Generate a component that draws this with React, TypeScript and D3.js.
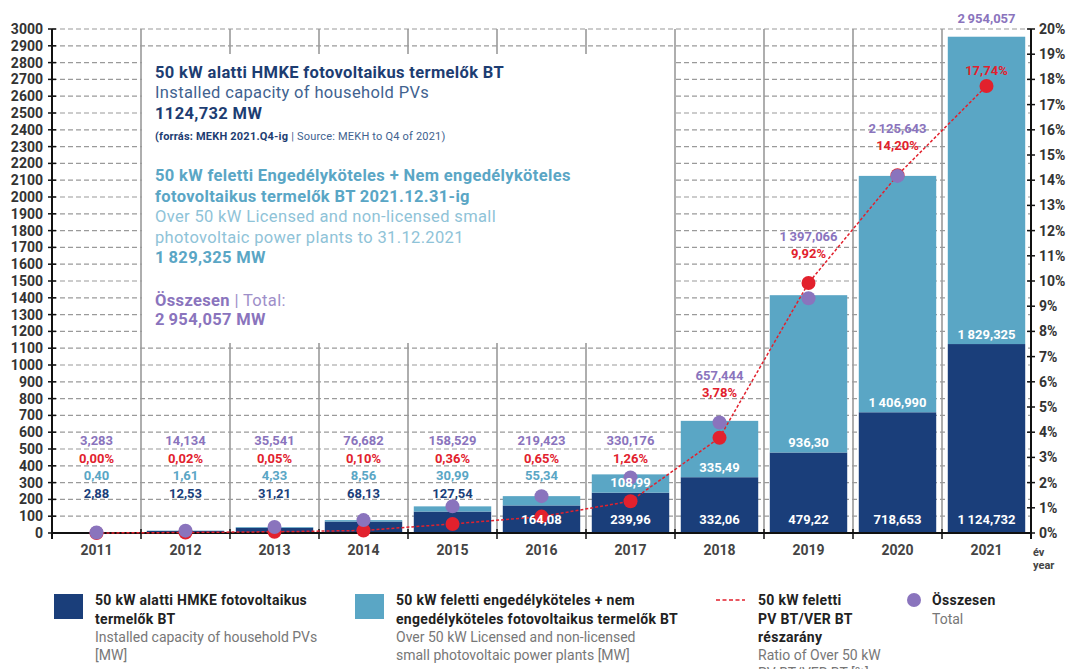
import React from "react";
import * as d3 from "d3";

// ---------- data ----------
const years = ["2011", "2012", "2013", "2014", "2015", "2016", "2017", "2018", "2019", "2020", "2021"];
const household = [2.88, 12.53, 31.21, 68.13, 127.54, 164.08, 239.96, 332.06, 479.22, 718.653, 1124.732];
const licensed = [0.4, 1.61, 4.33, 8.56, 30.99, 55.34, 108.99, 335.49, 936.3, 1406.99, 1829.325];
const totals = [3.283, 14.134, 35.541, 76.682, 158.529, 219.423, 330.176, 657.444, 1397.066, 2125.643, 2954.057];
const ratioPct = [0.0, 0.02, 0.05, 0.1, 0.36, 0.65, 1.26, 3.78, 9.92, 14.2, 17.74];
const decimals = [2, 2, 2, 2, 2, 2, 2, 2, 2, 3, 3];
const mwTicks = d3.range(0, 3001, 100);
const pctTicks = d3.range(0, 21, 1);

// ---------- style ----------
const W = 1076;
const H = 669;
const NAVY = "#1a3e7a";
const LIGHT = "#5aa6c5";
const RED = "#e2212d";
const PURPLE = "#8a74bd";
const GRID = "#9a9a9a";
const FONT = "Roboto, 'Noto Sans', sans-serif";

const locale = d3.formatLocale({ decimal: ",", thousands: "\u2009", grouping: [3], currency: ["", ""] });
const fmt = (v: number, d: number) => locale.format(`,.${d}f`)(v);

export default function App() {
  const x = d3.scaleBand<string>().domain(years).range([52, 1031]).paddingInner(0.13).paddingOuter(0.065);
  const y = d3.scaleLinear().domain([0, 3000]).range([533, 29]);
  const yp = d3.scaleLinear().domain([0, 20]).range([533, 29]);
  const step = x.step();
  const x0 = x.range()[0];
  const x1 = x.range()[1];
  const y0 = y(0);
  const yTop = y(3000);
  const bw = x.bandwidth();
  const cx = (i: number) => (x(years[i]) as number) + bw / 2;

  const boxX0 = x0 + step + 1;
  const boxX1 = x0 + step * 7 - 1;
  const boxY0 = 54;
  const boxY1 = 343;

  const line = d3
    .line<number>()
    .x((_, i) => cx(i))
    .y((d) => yp(d));

  const showTotalDot = totals.map((_, i) => i < totals.length - 1);

  // label positions derived from marks
  const labels = years.map((_, i) => {
    const darkTop = y(household[i]);
    const darkH = y0 - darkTop;
    const lightTop = y(household[i] + licensed[i]);
    const lightH = darkTop - lightTop;
    const redY = yp(ratioPct[i]);
    const purY = y(totals[i]);
    const dotTop = showTotalDot[i] ? Math.min(redY, purY) : redY;
    let pctY = y0 - 75;
    let totY = y0 - 93;
    if (pctY > dotTop - 15) {
      pctY = dotTop - 30;
      totY = pctY - 17;
    }
    if (totY + 8 > lightTop && totY < y0) {
      totY = lightTop - 18;
      pctY = redY - 15;
    }
    return {
      darkInside: darkH > 25,
      darkY: darkH > 25 ? y0 - 14 : y0 - 40,
      lightInside: lightH > 15,
      lightY: lightH > 15 ? darkTop - 10 : y0 - 57.5,
      pctY,
      totY,
    };
  });

  const legendRows = [600, 619, 637, 655, 673];
  const AX = 155;
  const BOLD_LS = 0.3;

  return (
    <svg
      width={W}
      height={H}
      style={{ position: "absolute", left: 0, top: 0, background: "#fff" }}
      fontFamily={FONT}
    >
      {/* horizontal dashed gridlines */}
      {mwTicks.map((t) => (
        <line key={"g" + t} x1={x0} x2={x1} y1={y(t)} y2={y(t)} stroke={GRID} strokeWidth={1.2} strokeDasharray="5,3" />
      ))}
      {/* vertical separators */}
      {years.slice(1).map((yr) => {
        const xv = (x(yr) as number) - (step - bw) / 2;
        return <line key={"v" + yr} x1={xv} x2={xv} y1={yTop} y2={y0} stroke={GRID} strokeWidth={1.6} />;
      })}
      {/* annotation box backdrop */}
      <rect x={boxX0} y={boxY0} width={boxX1 - boxX0} height={boxY1 - boxY0} fill="#fff" />

      {/* bars */}
      {years.map((yr, i) => (
        <g key={"b" + yr}>
          <rect x={x(yr)} y={y(household[i])} width={bw} height={y0 - y(household[i])} fill={NAVY} />
          <rect
            x={x(yr)}
            y={y(household[i] + licensed[i])}
            width={bw}
            height={y(household[i]) - y(household[i] + licensed[i])}
            fill={LIGHT}
          />
        </g>
      ))}

      {/* axes */}
      <line x1={x0} x2={x0} y1={yTop} y2={y0 + 6} stroke="#111" strokeWidth={2} />
      <line x1={x1} x2={x1} y1={yTop} y2={y0 + 6} stroke="#111" strokeWidth={2} />
      <line x1={x0} x2={x1} y1={y0} y2={y0} stroke="#111" strokeWidth={2} />
      {mwTicks.map((t) => (
        <g key={"lt" + t}>
          <line x1={x0 - 4} x2={x0 + 4} y1={y(t)} y2={y(t)} stroke="#111" strokeWidth={1.5} />
          <text x={43} y={y(t)} dy="0.35em" textAnchor="end" fontSize={14} fontWeight={700} fill="#333">
            {t}
          </text>
        </g>
      ))}
      {pctTicks.map((t) => (
        <g key={"rt" + t}>
          <line x1={x1 - 4} x2={x1 + 4} y1={yp(t)} y2={yp(t)} stroke="#111" strokeWidth={1.5} />
          <text x={1039} y={yp(t)} dy="0.35em" textAnchor="start" fontSize={14} fontWeight={700} fill="#333">
            {t}%
          </text>
        </g>
      ))}
      {years.map((yr, i) => {
        const xv = (x(yr) as number) - (step - bw) / 2;
        return (
          <g key={"xt" + yr}>
            {i > 0 && <line x1={xv} x2={xv} y1={y0 - 4} y2={y0 + 6} stroke="#111" strokeWidth={1.5} />}
            <text x={cx(i)} y={550} dy="0.35em" textAnchor="middle" fontSize={14} fontWeight={700} fill="#444">
              {yr}
            </text>
          </g>
        );
      })}
      <text x={1033} y={552} dy="0.35em" fontSize={11} fontWeight={700} fill="#444">év</text>
      <text x={1033} y={565} dy="0.35em" fontSize={11} fontWeight={700} fill="#444">year</text>

      {/* ratio line */}
      <path d={line(ratioPct) || ""} fill="none" stroke={RED} strokeWidth={1.5} strokeDasharray="3,2" />
      {ratioPct.map((v, i) => (
        <circle key={"r" + i} cx={cx(i)} cy={yp(v)} r={7} fill={RED} />
      ))}
      {totals.map((v, i) =>
        showTotalDot[i] ? <circle key={"p" + i} cx={cx(i)} cy={y(v)} r={7} fill={PURPLE} /> : null
      )}

      {/* value labels */}
      {years.map((yr, i) => {
        const L = labels[i];
        return (
          <g key={"lab" + yr} textAnchor="middle" fontSize={13} fontWeight={700} dominantBaseline="central">
            <text x={cx(i)} y={L.totY} fill={PURPLE}>{fmt(totals[i], 3)}</text>
            <text x={cx(i)} y={L.pctY} fill={RED}>{fmt(ratioPct[i], 2)}%</text>
            <text x={cx(i)} y={L.lightY} fill={L.lightInside ? "#fff" : LIGHT}>{fmt(licensed[i], decimals[i])}</text>
            <text x={cx(i)} y={L.darkY} fill={L.darkInside ? "#fff" : NAVY}>{fmt(household[i], decimals[i])}</text>
          </g>
        );
      })}

      {/* annotation text */}
      <g fontSize={16.5} dominantBaseline="central" letterSpacing={0.35}>
        <text x={AX} y={72} fontWeight={700} fill="#1d3d72">50 kW alatti HMKE fotovoltaikus termelők BT</text>
        <text x={AX} y={92} fill="#41628f">Installed capacity of household PVs</text>
        <text x={AX} y={113} fontWeight={700} fill="#1d3d72">{fmt(household[household.length - 1], 3).replace("\u2009", "")} MW</text>
        <text x={AX} y={136} fontSize={11} letterSpacing={0.2}>
          <tspan fontWeight={700} fill="#1d3d72">(forrás: MEKH 2021.Q4-ig</tspan>
          <tspan fill="#41628f"> | Source: MEKH to Q4 of 2021)</tspan>
        </text>
        <text x={AX} y={175} fontWeight={700} fill={LIGHT}>50 kW feletti Engedélyköteles + Nem engedélyköteles</text>
        <text x={AX} y={196} fontWeight={700} fill={LIGHT}>fotovoltaikus termelők BT 2021.12.31-ig</text>
        <text x={AX} y={216} fill="#8fc3d8">Over 50 kW Licensed and non-licensed small</text>
        <text x={AX} y={237} fill="#8fc3d8">photovoltaic power plants to 31.12.2021</text>
        <text x={AX} y={257} fontWeight={700} fill={LIGHT}>{fmt(licensed[licensed.length - 1], 3)} MW</text>
        <text x={AX} y={300}>
          <tspan fontWeight={700} fill={PURPLE}>Összesen</tspan>
          <tspan fill="#9e8fc9"> | Total:</tspan>
        </text>
        <text x={AX} y={319} fontWeight={700} fill={PURPLE}>{fmt(totals[totals.length - 1], 3)} MW</text>
      </g>

      {/* legend */}
      <g fontSize={14} dominantBaseline="central">
        <rect x={54} y={594} width={29} height={25} fill={NAVY} />
        <text x={95} y={legendRows[0]} fontWeight={700} letterSpacing={BOLD_LS} fill="#222">50 kW alatti HMKE fotovoltaikus</text>
        <text x={95} y={legendRows[1]} fontWeight={700} letterSpacing={BOLD_LS} fill="#222">termelők BT</text>
        <text x={95} y={legendRows[2]} fill="#777">Installed capacity of household PVs</text>
        <text x={95} y={legendRows[3]} fill="#777">[MW]</text>

        <rect x={355} y={594} width={29} height={25} fill={LIGHT} />
        <text x={396} y={legendRows[0]} fontWeight={700} letterSpacing={BOLD_LS} fill="#222">50 kW feletti engedélyköteles + nem</text>
        <text x={396} y={legendRows[1]} fontWeight={700} letterSpacing={BOLD_LS} fill="#222">engedélyköteles fotovoltaikus termelők BT</text>
        <text x={396} y={legendRows[2]} fill="#777">Over 50 kW Licensed and non-licensed</text>
        <text x={396} y={legendRows[3]} fill="#777">small photovoltaic power plants [MW]</text>

        <line x1={716} x2={745} y1={600} y2={600} stroke={RED} strokeWidth={1.6} strokeDasharray="4,2.5" />
        <text x={758} y={legendRows[0]} fontWeight={700} letterSpacing={BOLD_LS} fill="#222">50 kW feletti</text>
        <text x={758} y={legendRows[1]} fontWeight={700} letterSpacing={BOLD_LS} fill="#222">PV BT/VER BT</text>
        <text x={758} y={legendRows[2]} fontWeight={700} letterSpacing={BOLD_LS} fill="#222">részarány</text>
        <text x={758} y={legendRows[3]} fill="#777">Ratio of Over 50 kW</text>
        <text x={758} y={legendRows[4]} fill="#777">PV BT/VER BT [%]</text>

        <circle cx={914} cy={600} r={7} fill={PURPLE} />
        <text x={932} y={legendRows[0]} fontWeight={700} letterSpacing={BOLD_LS} fill="#222">Összesen</text>
        <text x={932} y={legendRows[1]} fill="#777">Total</text>
      </g>
    </svg>
  );
}
